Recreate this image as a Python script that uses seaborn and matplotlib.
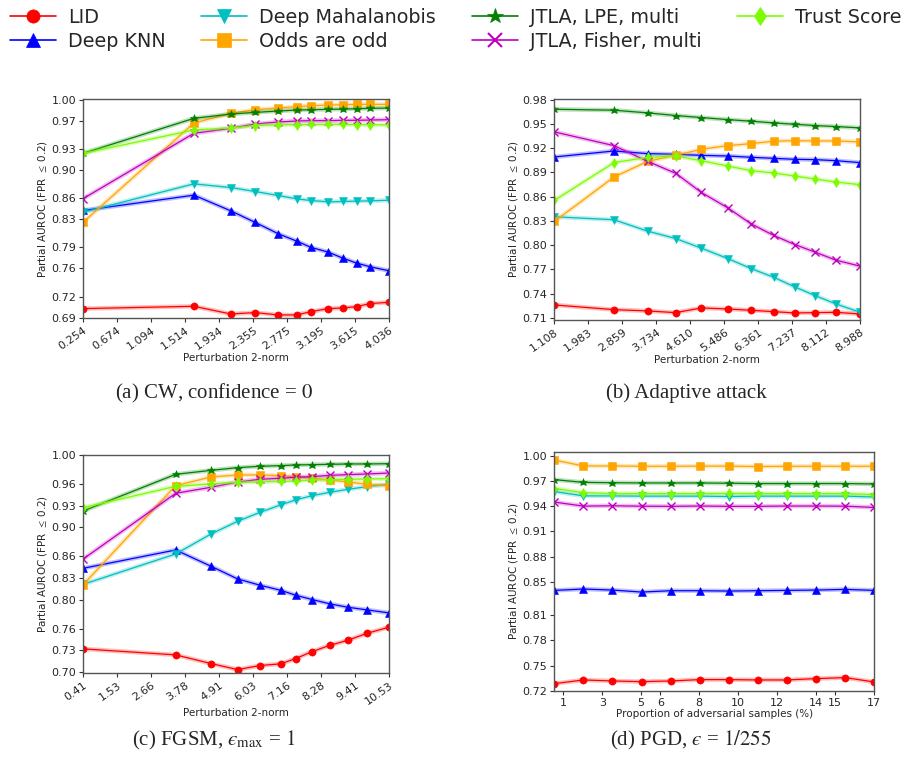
import numpy as np
import matplotlib
matplotlib.use("Agg")
import matplotlib.pyplot as plt
from matplotlib.lines import Line2D
import seaborn as sns

# Methods and their styles
methods = ["LID", "Deep KNN", "Deep Mahalanobis", "Odds are odd",
           "JTLA, LPE, multi", "JTLA, Fisher, multi", "Trust Score"]
colors = ["red", "blue", "c", "orange", "green", "m", "lawngreen"]
markers = ["o", "^", "v", "s", "*", "x", "d"]

# (a) CW, confidence = 0
a_x = [0.254, 1.623, 2.077, 2.382, 2.666, 2.893, 3.070, 3.285, 3.462, 3.635, 3.800, 4.036]
a_lid = [0.7028, 0.7061, 0.6952, 0.6971, 0.6938, 0.6938, 0.6985, 0.7028, 0.7037, 0.7056, 0.7099, 0.7118]
a_knn = [0.8424, 0.8642, 0.8420, 0.8254, 0.8093, 0.7989, 0.7899, 0.7832, 0.7747, 0.7676, 0.7624, 0.7567]
a_maha = [0.8400, 0.8803, 0.8751, 0.8694, 0.8637, 0.8590, 0.8566, 0.8547, 0.8552, 0.8557, 0.8561, 0.8570]
a_odds = [0.8258, 0.9669, 0.9806, 0.9858, 0.9882, 0.9901, 0.9915, 0.9924, 0.9929, 0.9934, 0.9934, 0.9934]
a_lpe = [0.9238, 0.9735, 0.9796, 0.9820, 0.9839, 0.9853, 0.9858, 0.9863, 0.9867, 0.9872, 0.9877, 0.9882]
a_fisher = [0.8594, 0.9522, 0.9593, 0.9655, 0.9683, 0.9697, 0.9702, 0.9702, 0.9707, 0.9707, 0.9711, 0.9716]
a_trust = [0.9238, 0.9569, 0.9598, 0.9631, 0.9645, 0.9645, 0.9650, 0.9650, 0.9650, 0.9645, 0.9645, 0.9640]
a_xticks = [0.254, 0.674, 1.094, 1.514, 1.934, 2.355, 2.775, 3.195, 3.615, 4.036]
a_yticks = [0.69, 0.72, 0.76, 0.79, 0.83, 0.86, 0.90, 0.93, 0.97, 1.00]

# (b) Adaptive attack
b_x = [1.108, 2.645, 3.513, 4.234, 4.894, 5.573, 6.174, 6.758, 7.300, 7.830, 8.363, 8.988]
b_lid = [0.7261, 0.7203, 0.7187, 0.7166, 0.7224, 0.7211, 0.7195, 0.7178, 0.7162, 0.7166, 0.7170, 0.7149]
b_knn = [0.9090, 0.9164, 0.9131, 0.9123, 0.9110, 0.9102, 0.9086, 0.9073, 0.9061, 0.9057, 0.9044, 0.9020]
b_maha = [0.8351, 0.8314, 0.8173, 0.8082, 0.7963, 0.7835, 0.7711, 0.7603, 0.7484, 0.7376, 0.7273, 0.7170]
b_odds = [0.8293, 0.8842, 0.9036, 0.9110, 0.9185, 0.9230, 0.9255, 0.9284, 0.9292, 0.9288, 0.9288, 0.9276]
b_lpe = [0.9680, 0.9668, 0.9635, 0.9602, 0.9577, 0.9552, 0.9532, 0.9511, 0.9494, 0.9478, 0.9466, 0.9449]
b_fisher = [0.9400, 0.9230, 0.9036, 0.8888, 0.8652, 0.8462, 0.8264, 0.8120, 0.8008, 0.7913, 0.7814, 0.7740]
b_trust = [0.8553, 0.9020, 0.9086, 0.9102, 0.9044, 0.8978, 0.8921, 0.8892, 0.8854, 0.8817, 0.8780, 0.8747]
b_xticks = [1.108, 1.983, 2.859, 3.734, 4.610, 5.486, 6.361, 7.237, 8.112, 8.988]
b_yticks = [0.71, 0.74, 0.77, 0.80, 0.83, 0.86, 0.89, 0.92, 0.95, 0.98]

# (c) FGSM, eps_max = 1
c_x = [0.41, 3.47, 4.64, 5.52, 6.26, 6.94, 7.44, 7.99, 8.58, 9.17, 9.81, 10.53]
c_lid = [0.7322, 0.7239, 0.7119, 0.7036, 0.7092, 0.7115, 0.7188, 0.7285, 0.7372, 0.7441, 0.7538, 0.7621]
c_knn = [0.8435, 0.8688, 0.8463, 0.8288, 0.8201, 0.8132, 0.8063, 0.8003, 0.7943, 0.7897, 0.7860, 0.7819]
c_maha = [0.8214, 0.8633, 0.8909, 0.9084, 0.9208, 0.9310, 0.9379, 0.9439, 0.9485, 0.9526, 0.9563, 0.9595]
c_odds = [0.8210, 0.9577, 0.9696, 0.9724, 0.9724, 0.9715, 0.9701, 0.9678, 0.9655, 0.9627, 0.9595, 0.9577]
c_lpe = [0.9227, 0.9733, 0.9788, 0.9825, 0.9844, 0.9853, 0.9862, 0.9867, 0.9871, 0.9876, 0.9876, 0.9880]
c_fisher = [0.8564, 0.9471, 0.9554, 0.9627, 0.9664, 0.9678, 0.9692, 0.9701, 0.9719, 0.9728, 0.9738, 0.9751]
c_trust = [0.9273, 0.9567, 0.9600, 0.9623, 0.9627, 0.9636, 0.9641, 0.9655, 0.9660, 0.9664, 0.9669, 0.9673]
c_xticks = [0.41, 1.53, 2.66, 3.78, 4.91, 6.03, 7.16, 8.28, 9.41, 10.53]
c_yticks = [0.70, 0.73, 0.76, 0.80, 0.83, 0.86, 0.90, 0.93, 0.96, 1.00]

# (d) PGD, eps = 1/255
d_x = [0.53, 2.03, 3.53, 5.03, 6.53, 8.03, 9.53, 11.03, 12.53, 14.03, 15.53, 17.03]
d_lid = [0.7284, 0.7328, 0.7316, 0.7308, 0.7316, 0.7332, 0.7332, 0.7328, 0.7328, 0.7344, 0.7356, 0.7304]
d_knn = [0.8396, 0.8412, 0.8400, 0.8376, 0.8392, 0.8392, 0.8388, 0.8392, 0.8396, 0.8400, 0.8408, 0.8396]
d_maha = [0.9575, 0.9523, 0.9523, 0.9520, 0.9520, 0.9520, 0.9515, 0.9520, 0.9520, 0.9520, 0.9520, 0.9510]
d_odds = [0.9950, 0.9880, 0.9880, 0.9876, 0.9876, 0.9878, 0.9878, 0.9873, 0.9876, 0.9876, 0.9876, 0.9876]
d_lpe = [0.9717, 0.9684, 0.9680, 0.9677, 0.9677, 0.9677, 0.9674, 0.9670, 0.9670, 0.9670, 0.9670, 0.9665]
d_fisher = [0.9449, 0.9401, 0.9405, 0.9400, 0.9398, 0.9402, 0.9398, 0.9398, 0.9402, 0.9402, 0.9400, 0.9385]
d_trust = [0.9611, 0.9562, 0.9550, 0.9550, 0.9550, 0.9550, 0.9553, 0.9550, 0.9550, 0.9550, 0.9550, 0.9538]
d_xticks = [1, 3, 5, 6, 8, 10, 12, 14, 15, 17]
d_yticks = [0.72, 0.75, 0.78, 0.81, 0.85, 0.88, 0.91, 0.94, 0.97, 1.00]

sns.set_style("white")
plt.rcParams["font.family"] = ["DejaVu Sans"]
plt.rcParams["mathtext.fontset"] = "stix"

fig = plt.figure(figsize=(9.09, 7.67), dpi=100)

panels = [
    dict(pos=[0.0916, 0.585, 0.3363, 0.2859], x=a_x,
         ys=[a_lid, a_knn, a_maha, a_odds, a_lpe, a_fisher, a_trust],
         xticks=a_xticks, yticks=a_yticks, xfmt="{:.3f}", ylim=(0.689, 1.001),
         xlabel="Perturbation 2-norm", rot=35),
    dict(pos=[0.6098, 0.5828, 0.3366, 0.2885], x=b_x,
         ys=[b_lid, b_knn, b_maha, b_odds, b_lpe, b_fisher, b_trust],
         xticks=b_xticks, yticks=b_yticks, xfmt="{:.3f}", ylim=(0.7075, 0.981),
         xlabel="Perturbation 2-norm", rot=35),
    dict(pos=[0.0916, 0.1222, 0.3363, 0.2846], x=c_x,
         ys=[c_lid, c_knn, c_maha, c_odds, c_lpe, c_fisher, c_trust],
         xticks=c_xticks, yticks=c_yticks, xfmt="{:.2f}", ylim=(0.6985, 1.0),
         xlabel="Perturbation 2-norm", rot=35),
    dict(pos=[0.6098, 0.0995, 0.352, 0.3116], x=d_x,
         ys=[d_lid, d_knn, d_maha, d_odds, d_lpe, d_fisher, d_trust],
         xticks=d_xticks, yticks=d_yticks, xfmt="{:d}", ylim=(0.72, 1.005),
         xlabel="Proportion of adversarial samples (%)", rot=0),
]

for p in panels:
    ax = fig.add_axes(p["pos"])
    for y, c, m in zip(p["ys"], colors, markers):
        # light halo under each curve
        sns.lineplot(x=p["x"], y=y, color=c, linewidth=3.2, alpha=0.25, ax=ax)
        sns.lineplot(x=p["x"], y=y, color=c, linewidth=0.9, marker=m,
                     markersize=5.2 if m != "*" else 6.2, markeredgewidth=1.0 if m == "x" else 0.4,
                     markeredgecolor=c, ax=ax)
    ax.set_xlim(p["x"][0], p["x"][-1])
    ax.set_ylim(*p["ylim"])
    ax.set_xticks(p["xticks"])
    ax.set_xticklabels([p["xfmt"].format(t) for t in p["xticks"]], rotation=p["rot"],
                       ha="right" if p["rot"] else "center", rotation_mode="anchor", fontsize=8)
    ax.set_yticks(p["yticks"])
    ax.set_yticklabels(["{:.2f}".format(t) for t in p["yticks"]], fontsize=8)
    ax.tick_params(axis="both", which="both", direction="out", length=3, width=0.8,
                   color="#333333", pad=2, bottom=True, left=True)
    ax.set_xlabel(p["xlabel"], fontsize=7.5, labelpad=1)
    ax.set_ylabel(r"Partial AUROC (FPR $\leq$ 0.2)", fontsize=7.5, labelpad=2)
    for s in ax.spines.values():
        s.set_color("#555555")
        s.set_linewidth(1.0)

handles = [Line2D([], [], color=c, marker=m, linewidth=1.2,
                  markersize=9.5 if m != "*" else 11.5, markeredgewidth=1.5 if m == "x" else 0.5)
           for c, m in zip(colors, markers)]
fig.legend(handles, methods, loc="upper left", bbox_to_anchor=(-0.008, 1.012), ncol=4,
           frameon=False, fontsize=13.8, handlelength=2.4, columnspacing=1.85,
           labelspacing=0.25, handletextpad=0.63)

eps = "\u03f5"
cap_kw = dict(fontsize=15, family="Liberation Serif", ha="center", va="center")
fig.text(0.2354, 0.4876, "(a) CW, confidence = $0$", **cap_kw)
fig.text(0.7547, 0.4876, "(b) Adaptive attack", **cap_kw)
fig.text(0.2354, 0.034, "(c) FGSM, $" + eps + r"_{\max}$ = $1$", **cap_kw)
fig.text(0.760, 0.034, "(d) PGD, $" + eps + "$ = $1/255$", **cap_kw)

fig.savefig("out.png", dpi=100)
